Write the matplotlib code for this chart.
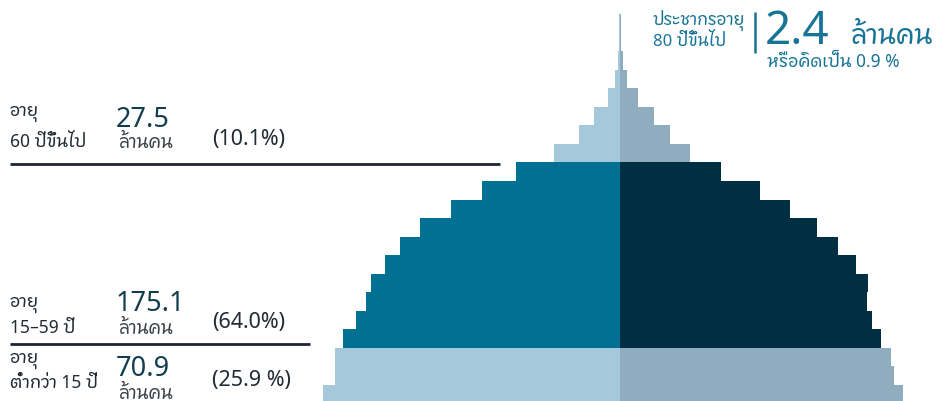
import matplotlib
matplotlib.use("Agg")
import matplotlib.pyplot as plt
from matplotlib import font_manager
from matplotlib.ft2font import FT2Font
from matplotlib.lines import Line2D

# ---------------- data ----------------
# age bands from youngest (bottom) to oldest (top), 5-year groups
age_groups = ["0-4", "5-9", "10-14", "15-19", "20-24", "25-29", "30-34",
              "35-39", "40-44", "45-49", "50-54", "55-59", "60-64", "65-69",
              "70-74", "75-79", "80-84", "85-89", "90-94", "95-99", "100+"]
# population per band (relative units)
male = [296.5, 284.5, 284.5, 276.5, 263.5, 253.5, 248.5, 234.5, 219.5, 199.5,
        168.5, 137.5, 103.5, 65.5, 40.5, 25.5, 11.5, 4.5, 1.5, 0.6, 0.6]
female = [283.5, 274.5, 271.5, 261.5, 252.5, 247.5, 248.5, 236.5, 218.5, 197.5,
          170.5, 140.5, 101.5, 70.5, 50.5, 34.5, 18.5, 7.5, 3.5, 1.5, 1.5]
# which colour group each band belongs to (light = young / old, main = working)
band_group = ["light"] * 3 + ["main"] * 10 + ["light"] * 8

group_labels = [("อายุ", "60 ปีขึ้นไป", "27.5", "(10.1%)"),
                ("อายุ", "15–59 ปี", "175.1", "(64.0%)"),
                ("อายุ", "ต่ำกว่า 15 ปี", "70.9", "(25.9 %)")]
unit_label = "ล้านคน"
old80_title = ["ประชากรอายุ", "80 ปีขึ้นไป"]
old80_value = "2.4"
old80_share = "หรือคิดเป็น 0.9 %"

# ---------------- fonts ----------------
def find_thai_font():
    cands = []
    for f in font_manager.fontManager.ttflist:
        try:
            cm = FT2Font(f.fname).get_charmap()
        except Exception:
            continue
        if 0x0E2D in cm and 0x0E32 in cm and 0x0E19 in cm:
            score = 0
            n = f.name.lower()
            if "thai" in n:
                score += 5
            if "sans" in n:
                score += 2
            if f.weight in (400, "normal", "regular"):
                score += 3
            if f.style == "normal":
                score += 2
            cands.append((score, f.name))
    if cands:
        cands.sort(reverse=True)
        return cands[0][1]
    return None

thai = find_thai_font()
fams = ["Noto Sans"] + ([thai] if thai else []) + ["DejaVu Sans"]
plt.rcParams["font.family"] = fams

W, H = 939, 401
fig = plt.figure(figsize=(W / 100, H / 100), dpi=100)
ax = fig.add_axes([0, 0, 1, 1])
ax.set_axis_off()

cx = 619.5
band_h = 18.55
ax.set_xlim(-cx, W - cx)
ax.set_ylim(0.5 - 16 / band_h, 0.5 + 385 / band_h)

col = {"light": ("#a5c8da", "#8fadbf"), "main": ("#007093", "#002e42")}
ys = list(range(len(age_groups)))
lc = [col[g][0] for g in band_group]
rc = [col[g][1] for g in band_group]
ax.barh(ys, [-m for m in male], height=1.0, color=lc, linewidth=0)
ax.barh(ys, female, height=1.0, color=rc, linewidth=0)


def ftext(x, y, s, size, color, **kw):
    fig.text(x / W, 1 - y / H, s, fontsize=size, color=color,
             ha=kw.pop("ha", "left"), va=kw.pop("va", "baseline"), **kw)


def fline(x0, x1, y0, y1, color, lw):
    fig.add_artist(Line2D([x0 / W, x1 / W], [1 - y0 / H, 1 - y1 / H],
                          transform=fig.transFigure, color=color, lw=lw,
                          solid_capstyle="butt"))

# top-right annotation
teal = "#177496"
ftext(653, 25, old80_title[0], 12, teal)
ftext(653, 46, old80_title[1], 12, teal)
fline(755, 755, 12, 53, teal, 1.8)
ftext(765, 44, old80_value, 33, teal)
ftext(851, 44, unit_label, 19.5, teal)
ftext(767, 67, old80_share, 12.5, teal)

# left group labels
dark_txt = "#222a33"
num_col = "#123d4f"
unit_col = "#3b4248"
rows = [(116, 147, 127, 148, 145), (307, 333, 311, 334, 328), (363, 388, 376, 399, 386)]
for (l1, l2, num, pct), (y1, y2, yn, yu, yp) in zip(group_labels, rows):
    ftext(10, y1, l1, 12.5, dark_txt)
    ftext(10, y2, l2, 12.5, dark_txt)
    ftext(116, yn, num, 19.5, num_col)
    ftext(118, yu, unit_label, 13, unit_col)
    ftext(212, yp, pct, 15.5, dark_txt)

fline(10, 500, 164, 164, "#1b2535", 2)
fline(10, 310, 344, 344, "#1b2535", 2)

fig.savefig("out.png", dpi=100)
